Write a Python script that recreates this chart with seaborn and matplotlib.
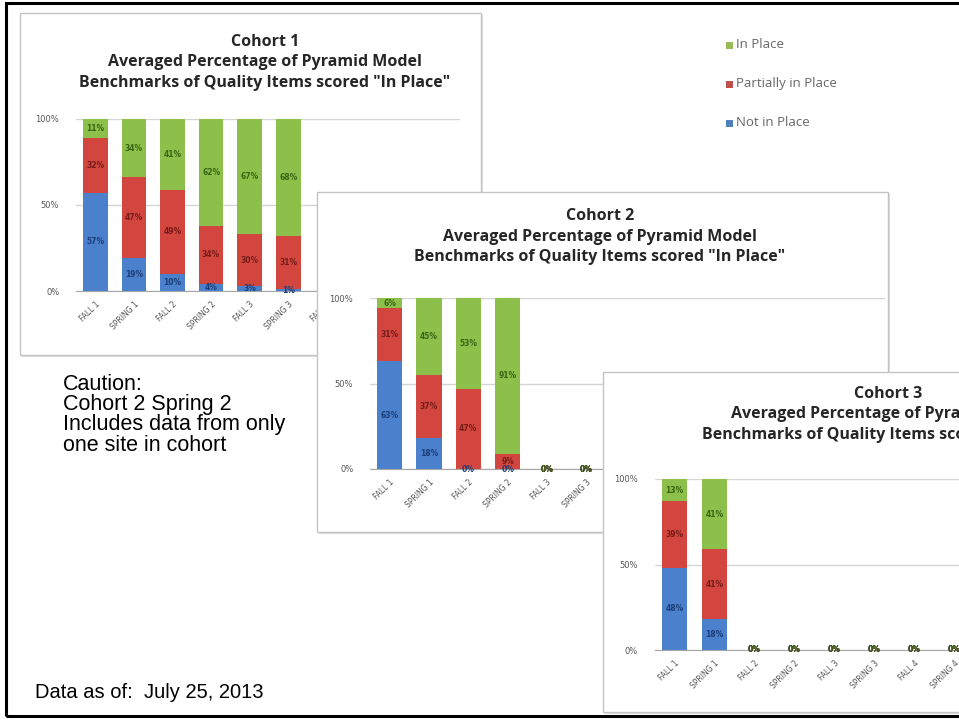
import numpy as np
import pandas as pd
import matplotlib
matplotlib.use('Agg')
from matplotlib import pyplot as plt
from matplotlib.patches import Rectangle
import seaborn as sns

sns.set_style('white')
plt.rcParams['font.family'] = ['DejaVu Sans']

# cohort 1 (the FALL 4 column is hidden behind the cohort 2 chart)
terms1 = ['FALL 1', 'SPRING 1', 'FALL 2', 'SPRING 2', 'FALL 3', 'SPRING 3']
ticks1 = terms1 + ['FALL 4']
not1 = [57, 19, 10, 4, 3, 1]
part1 = [32, 47, 49, 34, 30, 31]
in1 = [11, 34, 41, 62, 67, 68]

# cohort 2
terms2 = ['FALL 1', 'SPRING 1', 'FALL 2', 'SPRING 2', 'FALL 3', 'SPRING 3']
ticks2 = terms2 + ['FALL 4']
not2 = [63, 18, 0, 0, 0, 0]
part2 = [31, 37, 47, 9, 0, 0]
in2 = [6, 45, 53, 91, 0, 0]

# cohort 3
terms3 = ['FALL 1', 'SPRING 1', 'FALL 2', 'SPRING 2', 'FALL 3', 'SPRING 3', 'FALL 4', 'SPRING 4']
not3 = [48, 18, 0, 0, 0, 0, 0, 0]
part3 = [39, 41, 0, 0, 0, 0, 0, 0]
in3 = [13, 41, 0, 0, 0, 0, 0, 0]

series_names = ['In Place', 'Partially in Place', 'Not in Place']
caution = ['Caution:', 'Cohort 2 Spring 2', 'Includes data from only', 'one site in cohort']

BLUE, RED, GREEN = '#4a80cc', '#d3463f', '#8dc04b'
BLUE_TXT, RED_TXT, GREEN_TXT = '#1d3f78', '#761c18', '#3a6415'
LEG = {'In Place': '#9bbb59', 'Partially in Place': '#c0504d', 'Not in Place': '#4f81bd'}

W, H = 959, 721
fig = plt.figure(figsize=(W / 100, H / 100), dpi=100)


def box(x0, y0, x1, y1):
    return [x0 / W, 1 - y1 / H, (x1 - x0) / W, (y1 - y0) / H]


def panel(x0, y0, x1, y1, z):
    sh = Rectangle((x0 / W + 2 / W, 1 - y1 / H - 2 / H), (x1 - x0) / W, (y1 - y0) / H,
                   transform=fig.transFigure, facecolor='#dedede', edgecolor='none', zorder=z)
    fig.add_artist(sh)
    r = Rectangle((x0 / W, 1 - y1 / H), (x1 - x0) / W, (y1 - y0) / H,
                  transform=fig.transFigure, facecolor='white', edgecolor='#c4c4c4',
                  linewidth=1, zorder=z + 0.1)
    fig.add_artist(r)


def titles(cx, y, num, z):
    lines = ['Cohort %d' % num, 'Averaged Percentage of Pyramid Model',
             'Benchmarks of Quality Items scored "In Place"']
    for k, t in enumerate(lines):
        fig.text(cx / W, 1 - (y + 20.5 * k) / H, t, ha='center', va='center',
                 fontsize=11.5, fontweight='bold', family=['Open Sans', 'DejaVu Sans'],
                 color='#262626', zorder=z)


def cohort(rect, terms, ticks, nv, pv, iv, xmax, z):
    ax = fig.add_axes(rect, zorder=z)
    ax.patch.set_alpha(0)
    df = pd.DataFrame({'term': terms, 'not': nv, 'part': pv, 'in': iv})
    df['part_top'] = df['not'] + df['part']
    df['in_top'] = df['part_top'] + df['in']
    kw = dict(data=df, x='term', order=terms, width=0.64, saturation=1, linewidth=0, ax=ax)
    sns.barplot(y='in_top', color=GREEN, **kw)
    sns.barplot(y='part_top', color=RED, **kw)
    sns.barplot(y='not', color=BLUE, **kw)
    for i, row in df.iterrows():
        for v, mid, c in [(row['not'], row['not'] / 2, BLUE_TXT),
                          (row['part'], row['not'] + row['part'] / 2, RED_TXT),
                          (row['in'], row['part_top'] + row['in'] / 2, GREEN_TXT)]:
            ax.text(i, mid, '%d%%' % v, ha='center', va='center', fontsize=5.5,
                    fontweight='bold', color=c, clip_on=False)
    ax.set_xlim(-0.5, xmax)
    ax.set_ylim(0, 100)
    ax.set_yticks([0, 50, 100])
    ax.set_yticklabels(['0%', '50%', '100%'])
    ax.set_xticks(range(len(ticks)))
    ax.set_xticklabels(ticks, rotation=45, ha='right', rotation_mode='anchor')
    ax.tick_params(axis='y', labelsize=6, labelcolor='#555555', length=0, pad=12)
    ax.tick_params(axis='x', labelsize=5.5, labelcolor='#555555', length=0, pad=6)
    ax.set_xlabel('')
    ax.set_ylabel('')
    ax.grid(axis='y', color='#d4d4d4', linewidth=1)
    ax.set_axisbelow(True)
    for s in ['left', 'right', 'top']:
        ax.spines[s].set_visible(False)
    ax.spines['bottom'].set_color('#a6a6a6')
    return ax


# cohort 1 chart
panel(20, 13, 481, 355, 1)
titles(265, 42, 1, 2)
cohort(box(76, 119, 460, 291), terms1, ticks1, not1, part1, in1, 9.45, 2)

# legend of the slide
for k, name in enumerate(series_names):
    y = 45 + 39 * k
    fig.add_artist(Rectangle(((726) / W, 1 - (y + 3.5) / H), 7 / W, 7 / H,
                             transform=fig.transFigure, facecolor=LEG[name],
                             edgecolor='none', zorder=2))
    fig.text(736 / W, 1 - y / H, name, ha='left', va='center', fontsize=9.5,
             family=['Open Sans', 'DejaVu Sans'], color='#666666', zorder=2)

# cohort 2 chart
panel(317, 192, 888, 532, 3)
titles(600, 216, 2, 4)
cohort(box(370, 298, 885, 469), terms2, ticks2, not2, part2, in2, 12.6, 4)

# cohort 3 chart
panel(603, 372, 990, 712, 5)
titles(888, 394, 3, 6)
cohort(box(654.5, 479, 974.5, 650), terms3, terms3, not3, part3, in3, 7.5, 6)

# notes on the slide
for k, line in enumerate(caution):
    fig.text(63 / W, 1 - (384 + 20.5 * k) / H, line, ha='left', va='center',
             fontsize=15.5, family=['Liberation Sans', 'DejaVu Sans'], color='black', zorder=2)
fig.text(35 / W, 1 - 692 / H, 'Data as of:  July 25, 2013', ha='left', va='center',
         fontsize=14.5, family=['Liberation Sans', 'DejaVu Sans'], color='black', zorder=7)

# slide frame
fig.add_artist(Rectangle((6 / W, 1 - 716 / H), 970 / W, 713 / H, transform=fig.transFigure,
                         facecolor='none', edgecolor='black', linewidth=2.2, zorder=10))

fig.savefig('out.png', dpi=100)
